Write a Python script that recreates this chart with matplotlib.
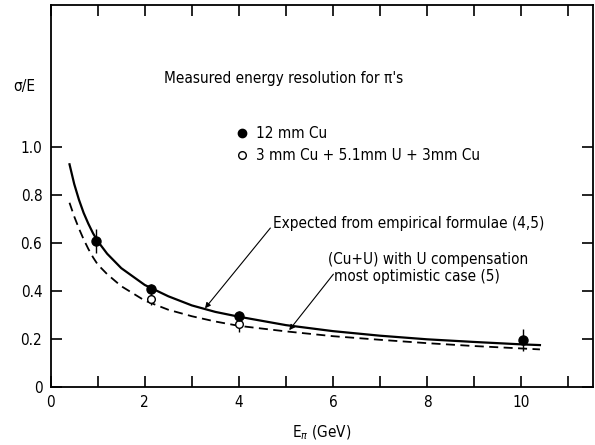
import matplotlib
matplotlib.use("Agg")
import matplotlib.pyplot as plt
from matplotlib.ticker import MultipleLocator, FixedLocator

plt.rcParams['font.family'] = ['DejaVu Sans']
plt.rcParams['font.stretch'] = 'condensed'

# Data
solid_x = [0.4, 0.5, 0.6, 0.7, 0.8, 0.9, 1.0, 1.2, 1.5, 2.0, 2.5, 3.0, 3.5, 4.0, 5.0, 6.0, 7.0, 8.0, 9.0, 10.0, 10.4]
solid_y = [0.927, 0.845, 0.78, 0.725, 0.68, 0.64, 0.607, 0.555, 0.495, 0.425, 0.378, 0.34, 0.313, 0.293, 0.258, 0.233, 0.214, 0.199, 0.188, 0.178, 0.175]
dash_x = [0.4, 0.5, 0.6, 0.7, 0.8, 0.9, 1.0, 1.2, 1.5, 2.0, 2.5, 3.0, 3.5, 4.0, 5.0, 6.0, 7.0, 8.0, 9.0, 10.0, 10.4]
dash_y = [0.767, 0.71, 0.66, 0.615, 0.575, 0.54, 0.51, 0.47, 0.42, 0.36, 0.322, 0.295, 0.273, 0.255, 0.232, 0.212, 0.197, 0.183, 0.171, 0.161, 0.157]

cu_x = [0.97, 2.14, 4.0, 10.03]
cu_y = [0.607, 0.407, 0.296, 0.195]
cu_err = [0.05, 0.02, 0.02, 0.045]

cuu_x = [2.14, 4.0]
cuu_y = [0.368, 0.261]
cuu_err = [0.028, 0.03]

x_ticks = [0, 2, 4, 6, 8, 10]
y_ticks = [0, 0.2, 0.4, 0.6, 0.8, 1.0]
y_ticklabels = ['0', '0.2', '0.4', '0.6', '0.8', '1.0']

fig = plt.figure(figsize=(5.95, 4.45), dpi=100)
ax = fig.add_axes([0.0852, 0.130, 0.9108, 0.859])

ax.plot(solid_x, solid_y, color='black', lw=1.6)
ax.plot(dash_x, dash_y, color='black', lw=1.3, dashes=(5, 3))

ax.errorbar(cu_x, cu_y, yerr=cu_err, fmt='o', color='black', ms=6.5, elinewidth=1.0, capsize=0, zorder=5)
ax.errorbar(cuu_x, cuu_y, yerr=cuu_err, fmt='o', mfc='white', mec='black', color='black', ms=5.5,
            elinewidth=1.0, capsize=0, zorder=4)

ax.set_xlim(0, 11.52)
ax.set_ylim(0, 1.59)

ax.xaxis.set_major_locator(FixedLocator(x_ticks))
ax.xaxis.set_minor_locator(MultipleLocator(1))
ax.yaxis.set_major_locator(FixedLocator(y_ticks))
ax.set_yticklabels(y_ticklabels)
ax.tick_params(which='both', direction='in', top=True, right=True, length=8, width=1.2, labelsize=11)
ax.tick_params(axis='x', pad=6)
ax.tick_params(axis='y', pad=6)
for s in ax.spines.values():
    s.set_linewidth(1.3)

fs = 11
ax.text(2.4, 1.283, "Measured energy resolution for \u03c0's", fontsize=fs, va='center', ha='left')

ax.plot([4.06], [1.056], 'o', color='black', ms=6, clip_on=False)
ax.text(4.37, 1.056, "12 mm Cu", fontsize=fs, va='center', ha='left')
ax.plot([4.06], [0.965], 'o', mfc='white', mec='black', ms=5.5, clip_on=False)
ax.text(4.37, 0.965, "3 mm Cu + 5.1mm U + 3mm Cu", fontsize=fs, va='center', ha='left')

arrow = dict(arrowstyle='-|>', color='black', lw=0.8, mutation_scale=8, shrinkA=0, shrinkB=0)
ax.text(4.72, 0.68, "Expected from empirical formulae (4,5)", fontsize=fs, va='center', ha='left')
ax.annotate("", xy=(3.28, 0.328), xytext=(4.67, 0.662), arrowprops=arrow)
ax.text(5.9, 0.533, "(Cu+U) with U compensation", fontsize=fs, va='center', ha='left')
ax.text(6.03, 0.46, "most optimistic case (5)", fontsize=fs, va='center', ha='left')
ax.annotate("", xy=(5.07, 0.237), xytext=(6.01, 0.47), arrowprops=arrow)

fig.text(24/595, 1 - 87/445, "\u03c3/E", fontsize=fs, ha='center', va='center')
fig.text(322/595, 1 - 433/445, "E$_\\pi$ (GeV)", fontsize=fs, ha='center', va='center')

fig.savefig("out.png", dpi=100)
